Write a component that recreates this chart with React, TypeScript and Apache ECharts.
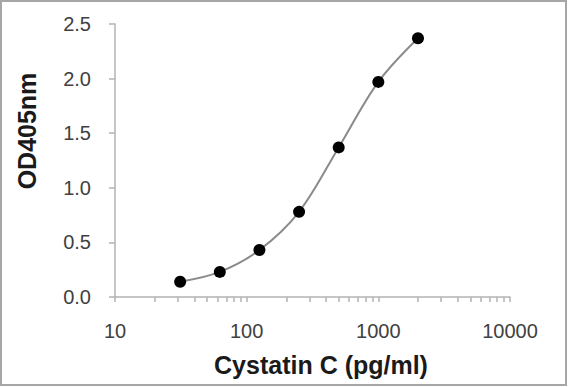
import React, { useEffect, useRef } from "react";
import * as echarts from "echarts";

const concentrations = [31.25, 62.5, 125, 250, 500, 1000, 2000];
const odValues = [0.14, 0.23, 0.43, 0.78, 1.37, 1.97, 2.37];
const xTickValues = [
  10, 20, 30, 40, 50, 60, 70, 80, 90,
  100, 200, 300, 400, 500, 600, 700, 800, 900,
  1000, 2000, 3000, 4000, 5000, 6000, 7000, 8000, 9000, 10000,
];
const xLabelValues = [10, 100, 1000, 10000];
const xTitle = "Cystatin C (pg/ml)";
const yTitle = "OD405nm";

export default function App() {
  const ref = useRef<HTMLDivElement>(null);
  useEffect(() => {
    if (!ref.current) return;
    const chart = echarts.init(ref.current, null, { renderer: "svg" });
    const pts = concentrations.map((c, i) => [c, odValues[i]]);
    const axisColor = "#b3b3b3";
    const labelColor = "#404040";
    const font = "Liberation Sans, Arial, sans-serif";
    chart.setOption({
      animation: false,
      backgroundColor: "#ffffff",
      grid: { left: 115, right: 58, top: 24, bottom: 90, containLabel: false },
      xAxis: {
        type: "log",
        logBase: 10,
        min: 10,
        max: 10000,
        axisLine: { show: true, lineStyle: { color: axisColor, width: 1.5 } },
        axisTick: {
          show: true,
          inside: false,
          length: 5,
          customValues: xTickValues,
          lineStyle: { color: axisColor, width: 1.5 },
        },
        axisLabel: {
          customValues: xLabelValues,
          color: labelColor,
          fontSize: 20,
          fontFamily: font,
          margin: 24,
          formatter: (v: number) => String(Math.round(v)),
        },
        splitLine: { show: false },
      },
      yAxis: {
        type: "value",
        min: 0,
        max: 2.5,
        interval: 0.5,
        axisLine: { show: true, lineStyle: { color: axisColor, width: 1.5 } },
        axisTick: { show: true, length: 6, lineStyle: { color: axisColor, width: 1.5 } },
        axisLabel: {
          color: labelColor,
          fontSize: 20,
          fontFamily: font,
          margin: 24,
          formatter: (v: number) => v.toFixed(1),
        },
        splitLine: { show: false },
      },
      graphic: [
        {
          type: "rect",
          shape: { x: 1, y: 1, width: 565, height: 384 },
          style: { fill: "none", stroke: "#a6a6a6", lineWidth: 2 },
          silent: true,
        },
        {
          type: "text",
          x: 321,
          y: 365,
          style: {
            text: xTitle,
            fontSize: 25,
            fontWeight: "bold",
            fontFamily: font,
            fill: "#1a1a1a",
            align: "center",
            verticalAlign: "middle",
          },
        },
        {
          type: "text",
          x: 27,
          y: 131,
          rotation: Math.PI / 2,
          style: {
            text: yTitle,
            fontSize: 25,
            fontWeight: "bold",
            fontFamily: font,
            fill: "#1a1a1a",
            align: "center",
            verticalAlign: "middle",
          },
        },
      ],
      series: [
        {
          type: "line",
          data: pts,
          smooth: 0.35,
          symbol: "circle",
          symbolSize: 12,
          showAllSymbol: true,
          lineStyle: { color: "#8a8a8a", width: 2 },
          itemStyle: { color: "#000000", borderWidth: 0 },
        },
      ],
    });
    return () => chart.dispose();
  }, []);
  return (
    <div
      ref={ref}
      style={{ position: "fixed", left: 0, top: 0, width: 568, height: 387 }}
    />
  );
}
